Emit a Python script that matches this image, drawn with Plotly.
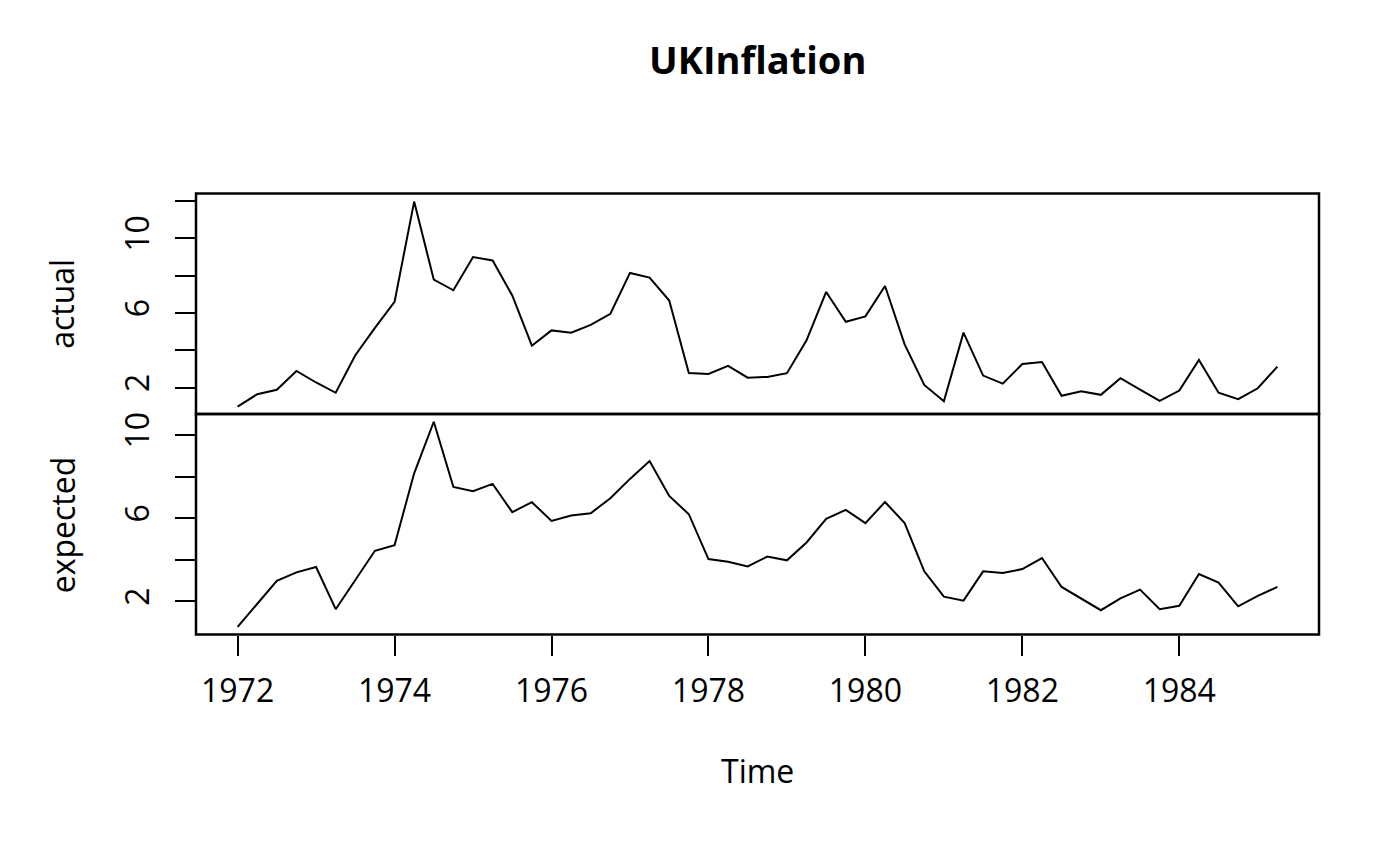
import plotly.graph_objects as go

# UK inflation, quarterly 1972 Q1 - 1985 Q2
start_year = 1972
actual = [0.98, 1.64, 1.88, 2.89, 2.27, 1.72, 3.73, 5.20, 6.59, 11.96,
          7.78, 7.21, 8.99, 8.81, 6.93, 4.24, 5.06, 4.94, 5.36, 5.95,
          8.14, 7.89, 6.66, 2.78, 2.73, 3.16, 2.53, 2.57, 2.77, 4.53,
          7.12, 5.52, 5.81, 7.44, 4.31, 2.14, 1.27, 4.94, 2.64, 2.21,
          3.26, 3.37, 1.56, 1.80, 1.61, 2.50, 1.89, 1.29, 1.84, 3.48,
          1.72, 1.38, 1.96, 3.12]
expected = [0.77, 1.90, 2.98, 3.39, 3.65, 1.62, 3.04, 4.43, 4.70, 8.16,
            10.64, 7.50, 7.30, 7.65, 6.29, 6.77, 5.87, 6.13, 6.24, 6.96,
            7.89, 8.75, 7.07, 6.19, 4.03, 3.90, 3.68, 4.15, 3.97, 4.83,
            5.97, 6.40, 5.76, 6.78, 5.76, 3.44, 2.22, 2.03, 3.44, 3.36,
            3.55, 4.08, 2.69, 2.11, 1.57, 2.14, 2.56, 1.62, 1.78, 3.31,
            2.90, 1.76, 2.26, 2.69]
time = [start_year + i / 4 for i in range(len(actual))]

x_ticks = [1972, 1974, 1976, 1978, 1980, 1982, 1984]
y1_ticks = [2, 4, 6, 8, 10, 12]
y1_text = ['2', '', '6', '', '10', '']
y2_ticks = [2, 4, 6, 8, 10]
y2_text = ['2', '', '6', '', '10']

W, H = 1400, 866
left, right = 196, 1319
top1, mid, bot2 = 192, 413, 634
font = "Open Sans"

fig = go.Figure()
fig.add_trace(go.Scatter(x=time, y=actual, mode='lines', xaxis='x', yaxis='y',
                         line={"width": 2, "color": "black"}))
fig.add_trace(go.Scatter(x=time, y=expected, mode='lines', xaxis='x', yaxis='y2',
                         line={"width": 2, "color": "black"}))

axis_common = dict(showgrid=False, zeroline=False, showline=False,
                   ticks='outside', ticklen=20, tickwidth=2, tickcolor='black',
                   tickfont=dict(family=font, size=32, color='black'))

fig.update_layout(
    width=W, height=H,
    margin=dict(l=0, r=0, t=0, b=0),
    paper_bgcolor='white', plot_bgcolor='white',
    showlegend=False,
    xaxis=dict(domain=[left / W, right / W], range=[1971.47, 1985.78],
               anchor='y2', tickvals=x_ticks, ticklabelstandoff=8, **axis_common),
    yaxis=dict(domain=[1 - mid / H, 1 - top1 / H], range=[0.58, 12.39],
               anchor='x', tickvals=y1_ticks, ticktext=y1_text, tickangle=-90,
               ticklabelstandoff=13, **axis_common),
    yaxis2=dict(domain=[1 - bot2 / H, 1 - mid / H], range=[0.4, 11.01],
                anchor='x', tickvals=y2_ticks, ticktext=y2_text, tickangle=-90,
                ticklabelstandoff=13, **axis_common),
)

# panel boxes
for ref in ['y domain', 'y2 domain']:
    fig.add_shape(type='rect', xref='x domain', yref=ref, x0=0, x1=1, y0=0, y1=1,
                  line=dict(color='black', width=2.5), fillcolor='rgba(0,0,0,0)')

fig.add_annotation(text='<b>UKInflation</b>', xref='paper', yref='paper',
                   x=(left + right) / 2 / W, y=1 - 57 / H, showarrow=False,
                   xanchor='center', yanchor='middle',
                   font=dict(family=font, size=38, color='black'))
fig.add_annotation(text='Time', xref='paper', yref='paper',
                   x=(left + right) / 2 / W, y=1 - 770 / H, showarrow=False,
                   xanchor='center', yanchor='middle',
                   font=dict(family=font, size=32, color='black'))
fig.add_annotation(text='actual', xref='paper', yref='y domain',
                   x=62 / W, y=0.5, showarrow=False, textangle=-90,
                   xanchor='center', yanchor='middle',
                   font=dict(family=font, size=32, color='black'))
fig.add_annotation(text='expected', xref='paper', yref='y2 domain',
                   x=62 / W, y=0.5, showarrow=False, textangle=-90,
                   xanchor='center', yanchor='middle',
                   font=dict(family=font, size=32, color='black'))

# page opens with the default 8px body margin; drop it so the figure sits at 0,0
fig.write_html("out.html", config={'displayModeBar': False},
               post_script="document.body.style.margin='0';")
